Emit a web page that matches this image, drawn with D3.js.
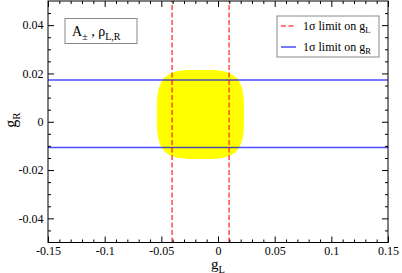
<!DOCTYPE html>
<html>
<head>
<meta charset="utf-8">
<script src="https://cdn.jsdelivr.net/npm/d3@7"></script>
<style>
  html, body { margin: 0; padding: 0; background: #fff; }
  svg { display: block; font-family: "Liberation Serif", "Times New Roman", serif; }
</style>
</head>
<body>
<svg id="chart" width="402" height="273"></svg>
<script>
// axis ticks
const xMajor = [-0.15, -0.1, -0.05, 0, 0.05, 0.1, 0.15];
const xMajorLabels = ["-0.15", "-0.1", "-0.05", "0", "0.05", "0.1", "0.15"];
const xMinor = [-0.14, -0.13, -0.12, -0.11, -0.09, -0.08, -0.07, -0.06, -0.04, -0.03, -0.02, -0.01,
  0.01, 0.02, 0.03, 0.04, 0.06, 0.07, 0.08, 0.09, 0.11, 0.12, 0.13, 0.14];
const yMajor = [-0.04, -0.02, 0, 0.02, 0.04];
const yMajorLabels = ["-0.04", "-0.02", "0", "0.02", "0.04"];
const yMinor = [-0.045, -0.035, -0.03, -0.025, -0.015, -0.01, -0.005,
  0.005, 0.01, 0.015, 0.025, 0.03, 0.035, 0.045];

// 1 sigma limits
const gLLimits = [-0.0405, 0.0098];
const gRLimits = [-0.0107, 0.0173];

// allowed region (A±, rho L,R), boundary
const blobGL = [0.0229, 0.0222, 0.0199, 0.0162, 0.0106, 0.0026, -0.0155, -0.0336, -0.0416, -0.0472, -0.0509, -0.0532,
  -0.0539, -0.0532, -0.0509, -0.0472, -0.0416, -0.0336, -0.0155, 0.0026, 0.0106, 0.0162, 0.0199, 0.0222];
const blobGR = [0.0030, 0.0117, 0.0155, 0.0182, 0.0200, 0.0211, 0.0214, 0.0211, 0.0200, 0.0182, 0.0155, 0.0117,
  0.0030, -0.0057, -0.0095, -0.0122, -0.0140, -0.0151, -0.0154, -0.0151, -0.0140, -0.0122, -0.0095, -0.0057];

const width = 402, height = 273;
const margin = { top: 1, right: 14, bottom: 30.5, left: 48 };

const svg = d3.select("#chart");

const x = d3.scaleLinear().domain([-0.15, 0.15]).range([margin.left, width - margin.right]);
const y = d3.scaleLinear().domain([-0.05, 0.05]).range([height - margin.bottom, margin.top]);

const red = "rgba(255,0,0,0.7)";
const blue = "rgba(0,0,255,0.7)";

// yellow region
const blob = blobGL.map((d, i) => [d, blobGR[i]]);
svg.append("path")
  .datum(blob)
  .attr("fill", "#ffff00")
  .attr("d", d3.line().x(d => x(d[0])).y(d => y(d[1])).curve(d3.curveCatmullRomClosed));

// horizontal limits on gR
svg.selectAll(".gr-limit")
  .data(gRLimits)
  .join("line")
  .attr("x1", x(-0.15)).attr("x2", x(0.15))
  .attr("y1", d => y(d)).attr("y2", d => y(d))
  .attr("stroke", blue)
  .attr("stroke-width", 1.5);

// vertical dashed limits on gL
svg.selectAll(".gl-limit")
  .data(gLLimits)
  .join("line")
  .attr("x1", d => x(d)).attr("x2", d => x(d))
  .attr("y1", y(-0.05)).attr("y2", y(0.05))
  .attr("stroke", red)
  .attr("stroke-width", 1.5)
  .attr("stroke-dasharray", "5,2.5");

// axes, ticks inward on all four sides
function styleAxis(g) {
  g.select(".domain").remove();
  g.selectAll(".tick line").attr("stroke", "#000");
  g.selectAll(".tick text").attr("fill", "#000").attr("font-size", 12)
    .attr("font-family", "Liberation Serif, serif");
}

const plotBottom = height - margin.bottom, plotTop = margin.top;
const plotLeft = margin.left, plotRight = width - margin.right;

svg.append("g").attr("transform", `translate(0,${plotBottom})`)
  .call(d3.axisBottom(x).tickValues(xMajor).tickFormat((d, i) => xMajorLabels[i]).tickSizeInner(-6).tickSizeOuter(0).tickPadding(3.5))
  .call(styleAxis);
svg.append("g").attr("transform", `translate(0,${plotBottom})`)
  .call(d3.axisBottom(x).tickValues(xMinor).tickFormat("").tickSizeInner(-3).tickSizeOuter(0))
  .call(styleAxis);
svg.append("g").attr("transform", `translate(0,${plotTop})`)
  .call(d3.axisTop(x).tickValues(xMajor).tickFormat("").tickSizeInner(-6).tickSizeOuter(0))
  .call(styleAxis);
svg.append("g").attr("transform", `translate(0,${plotTop})`)
  .call(d3.axisTop(x).tickValues(xMinor).tickFormat("").tickSizeInner(-3).tickSizeOuter(0))
  .call(styleAxis);

svg.append("g").attr("transform", `translate(${plotLeft},0)`)
  .call(d3.axisLeft(y).tickValues(yMajor).tickFormat((d, i) => yMajorLabels[i]).tickSizeInner(-6).tickSizeOuter(0).tickPadding(4.5))
  .call(styleAxis);
svg.append("g").attr("transform", `translate(${plotLeft},0)`)
  .call(d3.axisLeft(y).tickValues(yMinor).tickFormat("").tickSizeInner(-3).tickSizeOuter(0))
  .call(styleAxis);
svg.append("g").attr("transform", `translate(${plotRight},0)`)
  .call(d3.axisRight(y).tickValues(yMajor).tickFormat("").tickSizeInner(-6).tickSizeOuter(0))
  .call(styleAxis);
svg.append("g").attr("transform", `translate(${plotRight},0)`)
  .call(d3.axisRight(y).tickValues(yMinor).tickFormat("").tickSizeInner(-3).tickSizeOuter(0))
  .call(styleAxis);

// frame
svg.append("rect")
  .attr("x", plotLeft).attr("y", plotTop)
  .attr("width", plotRight - plotLeft).attr("height", plotBottom - plotTop)
  .attr("fill", "none").attr("stroke", "#000").attr("stroke-width", 1);

// axis titles
const xt = svg.append("text")
  .attr("x", x(0) - 7).attr("y", 269)
  .attr("font-size", 15);
xt.append("tspan").text("g");
xt.append("tspan").attr("font-size", 10.5).attr("dy", 3.5).text("L");

const yt = svg.append("text")
  .attr("transform", `translate(16,${y(0) + 6}) rotate(-90)`)
  .attr("font-size", 16);
yt.append("tspan").text("g");
yt.append("tspan").attr("font-size", 11).attr("dy", 4).text("R");

// annotation box
svg.append("rect")
  .attr("x", 65).attr("y", 18.5).attr("width", 72).attr("height", 25)
  .attr("fill", "#fff").attr("stroke", "#888").attr("stroke-width", 1);
const ann = svg.append("text").attr("x", 72).attr("y", 35.5).attr("font-size", 14);
ann.append("tspan").text("A");
ann.append("tspan").attr("font-size", 10).attr("dy", 4).text("±");
ann.append("tspan").attr("dy", -4).text(" ,  ρ");
ann.append("tspan").attr("font-size", 10).attr("dy", 4).text("L,R");

// legend
const legend = svg.append("g");
legend.append("rect")
  .attr("x", 277).attr("y", 16).attr("width", 102).attr("height", 41)
  .attr("fill", "#fff").attr("stroke", "#888").attr("stroke-width", 1);
const entries = [
  { color: red, dash: "5,2.5", sub: "L", y: 26 },
  { color: blue, dash: null, sub: "R", y: 47 }
];
entries.forEach(e => {
  legend.append("line")
    .attr("x1", 281).attr("x2", 296).attr("y1", e.y).attr("y2", e.y)
    .attr("stroke", e.color).attr("stroke-width", 1.5)
    .attr("stroke-dasharray", e.dash);
  const t = legend.append("text").attr("x", 303).attr("y", e.y + 4).attr("font-size", 12);
  t.append("tspan").text("1σ limit on g");
  t.append("tspan").attr("font-size", 8.5).attr("dy", 3).text(e.sub);
});
</script>
</body>
</html>
